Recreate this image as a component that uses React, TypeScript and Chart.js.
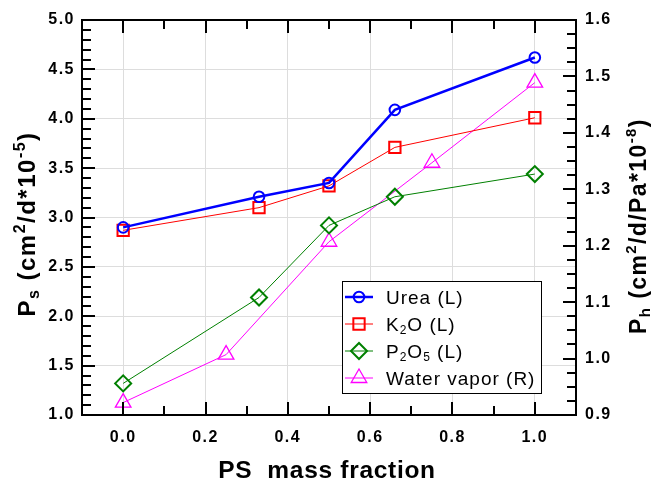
import { useEffect, useRef } from 'react';
import { Chart, registerables } from 'chart.js';
import { drawPoint } from 'chart.js/helpers';

Chart.register(...registerables);

// ---- data ----
const fertilizerX = [0, 0.33, 0.5, 0.66, 1.0];
const vaporX = [0, 0.25, 0.5, 0.75, 1.0];
const ureaPs = [2.9, 3.21, 3.35, 4.09, 4.62];
const k2oPs = [2.87, 3.1, 3.32, 3.71, 4.01];
const p2o5Ps = [1.32, 2.19, 2.92, 3.21, 3.44];
const waterPh = [0.922, 1.007, 1.207, 1.347, 1.489];

const xTickValues = [0, 0.2, 0.4, 0.6, 0.8, 1.0];
const leftTickValues = [1.0, 1.5, 2.0, 2.5, 3.0, 3.5, 4.0, 4.5, 5.0];
const rightTickValues = [0.9, 1.0, 1.1, 1.2, 1.3, 1.4, 1.5, 1.6];

type Part = { t: string; k?: 'sub' | 'sup' };
const legendLabels: Part[][] = [
  [{ t: 'Urea (L)' }],
  [{ t: 'K' }, { t: '2', k: 'sub' }, { t: 'O (L)' }],
  [{ t: 'P' }, { t: '2', k: 'sub' }, { t: 'O' }, { t: '5', k: 'sub' }, { t: ' (L)' }],
  [{ t: 'Water vapor (R)' }],
];
const xTitle = 'PS  mass fraction';
const leftTitle: Part[] = [
  { t: 'P' }, { t: 's', k: 'sub' }, { t: ' (cm' }, { t: '2', k: 'sup' }, { t: '/d*10' }, { t: '-5', k: 'sup' }, { t: ')' },
];
const rightTitle: Part[] = [
  { t: 'P' }, { t: 'h', k: 'sub' }, { t: ' (cm' }, { t: '2', k: 'sup' }, { t: '/d/Pa*10' }, { t: '-8', k: 'sup' }, { t: ')' },
];

const FAMILY = '"Liberation Sans", Arial, sans-serif';

function drawRich(ctx: CanvasRenderingContext2D, parts: Part[], x: number, y: number, size: number, bold: boolean, align: 'left' | 'center', spacing: number) {
  const w = bold ? 'bold ' : '';
  const small = Math.round(size * 0.65);
  const fontFor = (p: Part) => `${w}${p.k ? small : size}px ${FAMILY}`;
  (ctx as any).letterSpacing = spacing + 'px';
  let total = 0;
  for (const p of parts) {
    ctx.font = fontFor(p);
    total += ctx.measureText(p.t).width;
  }
  let cx = align === 'center' ? x - total / 2 : x;
  ctx.textAlign = 'left';
  ctx.textBaseline = 'alphabetic';
  for (const p of parts) {
    ctx.font = fontFor(p);
    let dy = 0;
    if (p.k === 'sub') dy = size * 0.18;
    if (p.k === 'sup') dy = -size * 0.42;
    ctx.fillText(p.t, cx, y + dy);
    cx += ctx.measureText(p.t).width;
  }
  (ctx as any).letterSpacing = '0px';
}

const tickSpacingPlugin = {
  id: 'tickSpacing',
  beforeDraw(chart: any) {
    (chart.ctx as any).letterSpacing = '1.5px';
  },
  afterDatasetsDraw(chart: any) {
    (chart.ctx as any).letterSpacing = '0px';
  },
};

const framePlugin = {
  id: 'frame',
  afterDatasetsDraw(chart: any) {
    const ctx: CanvasRenderingContext2D = chart.ctx;
    const { left, right, top, bottom } = chart.chartArea;
    const { x, y, y1 } = chart.scales;
    ctx.save();
    ctx.strokeStyle = '#000';
    ctx.lineWidth = 2;
    ctx.beginPath();
    for (let i = 0; i <= 10; i++) {
      const px = Math.round(x.getPixelForValue(i / 10));
      const len = i % 2 === 0 ? 13 : 9;
      ctx.moveTo(px, bottom); ctx.lineTo(px, bottom - len);
      ctx.moveTo(px, top); ctx.lineTo(px, top + len);
    }
    for (let i = 11; i < 50; i++) {
      const py = Math.round(y.getPixelForValue(i / 10));
      const len = i % 5 === 0 ? 13 : 9;
      ctx.moveTo(left, py); ctx.lineTo(left + len, py);
    }
    for (let i = 37; i < 64; i++) {
      const py = Math.round(y1.getPixelForValue(i * 0.025));
      const len = i % 4 === 0 ? 13 : 9;
      ctx.moveTo(right, py); ctx.lineTo(right - len, py);
    }
    ctx.stroke();
    ctx.strokeRect(left, top, right - left, bottom - top);
    ctx.restore();
  },
};

const textPlugin = {
  id: 'texts',
  afterDraw(chart: any) {
    const ctx: CanvasRenderingContext2D = chart.ctx;
    const { left, right, top, bottom } = chart.chartArea;
    ctx.save();
    ctx.fillStyle = '#000';
    // x title
    drawRich(ctx, [{ t: xTitle }], (left + right) / 2 - 2, 478, 24.5, true, 'center', 0.7);
    // left title
    ctx.save();
    ctx.translate(35, 224);
    ctx.rotate(-Math.PI / 2);
    drawRich(ctx, leftTitle, 0, 0, 24, true, 'center', 1.5);
    ctx.restore();
    // right title
    ctx.save();
    ctx.translate(646, 226);
    ctx.rotate(-Math.PI / 2);
    drawRich(ctx, rightTitle, 0, 0, 23, true, 'center', 1.4);
    ctx.restore();

    // legend
    const bx = 342, by = 281, bw = 199, bh = 112;
    ctx.fillStyle = '#fff';
    ctx.fillRect(bx, by, bw, bh);
    ctx.strokeStyle = '#000';
    ctx.lineWidth = 1;
    ctx.strokeRect(bx + 0.5, by + 0.5, bw, bh);
    const ds = chart.data.datasets;
    for (let i = 0; i < ds.length; i++) {
      const d = ds[i];
      const ry = by + 16 + i * 27;
      ctx.strokeStyle = d.borderColor;
      ctx.lineWidth = d.borderWidth;
      ctx.beginPath();
      ctx.moveTo(bx + 3, ry);
      ctx.lineTo(bx + 31, ry);
      ctx.stroke();
      ctx.lineWidth = d.pointBorderWidth;
      ctx.strokeStyle = d.pointBorderColor;
      ctx.fillStyle = 'rgba(0,0,0,0)';
      drawPoint(ctx, { pointStyle: d.pointStyle, radius: d.pointRadius, borderWidth: d.pointBorderWidth, rotation: 0 } as any, bx + 17, ry);
      ctx.fillStyle = '#000';
      drawRich(ctx, legendLabels[i], bx + 44, ry + 7, 19, false, 'left', 1);
    }
    ctx.restore();
  },
};

export default function App() {
  const ref = useRef<HTMLCanvasElement>(null);
  useEffect(() => {
    document.body.style.margin = '0';
    const canvas = ref.current!;
    const toPts = (xs: number[], ys: number[]) => xs.map((v, i) => ({ x: v, y: ys[i] }));
    const tickFont = { family: FAMILY, size: 16, weight: 'bold' as const };
    const chart = new Chart(canvas, {
      type: 'scatter',
      data: {
        datasets: [
          {
            label: 'Urea (L)', data: toPts(fertilizerX, ureaPs), yAxisID: 'y', showLine: true,
            borderColor: '#0000ff', borderWidth: 2.5, pointStyle: 'circle', pointRadius: 5.3,
            pointBorderColor: '#0000ff', pointBorderWidth: 2, pointBackgroundColor: 'rgba(0,0,0,0)',
          },
          {
            label: 'K2O (L)', data: toPts(fertilizerX, k2oPs), yAxisID: 'y', showLine: true,
            borderColor: '#ff0000', borderWidth: 1, pointStyle: 'rect', pointRadius: 8,
            pointBorderColor: '#ff0000', pointBorderWidth: 2, pointBackgroundColor: 'rgba(0,0,0,0)',
          },
          {
            label: 'P2O5 (L)', data: toPts(fertilizerX, p2o5Ps), yAxisID: 'y', showLine: true,
            borderColor: '#008000', borderWidth: 1, pointStyle: 'rectRot', pointRadius: 8,
            pointBorderColor: '#008000', pointBorderWidth: 2, pointBackgroundColor: 'rgba(0,0,0,0)',
          },
          {
            label: 'Water vapor (R)', data: toPts(vaporX, waterPh), yAxisID: 'y1', showLine: true,
            borderColor: '#ff00ff', borderWidth: 1, pointStyle: 'triangle', pointRadius: 9,
            pointBorderColor: '#ff00ff', pointBorderWidth: 1.3, pointBackgroundColor: 'rgba(0,0,0,0)',
          },
        ],
      } as any,
      options: {
        responsive: false,
        animation: false,
        layout: { padding: { top: 20, left: 0, right: 0, bottom: 0 } },
        plugins: { legend: { display: false }, tooltip: { enabled: false } },
        elements: { line: { tension: 0 } },
        scales: {
          x: {
            type: 'linear', position: 'bottom', min: -0.1, max: 1.1,
            afterBuildTicks: (s: any) => { s.ticks = xTickValues.map((v) => ({ value: v })); },
            afterFit: (s: any) => { s.height = 70; },
            ticks: { font: tickFont, color: '#000', padding: 13, maxRotation: 0, autoSkip: false, callback: (v: any) => Number(v).toFixed(1) },
            grid: { color: '#dddddd', lineWidth: 1, drawTicks: false },
            border: { display: false },
          },
          y: {
            type: 'linear', position: 'left', min: 1, max: 5,
            afterBuildTicks: (s: any) => { s.ticks = leftTickValues.map((v) => ({ value: v })); },
            afterFit: (s: any) => { s.width = 82; },
            ticks: { font: tickFont, color: '#000', padding: 7, autoSkip: false, callback: (v: any) => Number(v).toFixed(1) },
            grid: { color: '#dddddd', lineWidth: 1, drawTicks: false },
            border: { display: false },
          },
          y1: {
            type: 'linear', position: 'right', min: 0.9, max: 1.6,
            afterBuildTicks: (s: any) => { s.ticks = rightTickValues.map((v) => ({ value: v })); },
            afterFit: (s: any) => { s.width = 76; },
            ticks: { font: tickFont, color: '#000', padding: 9, autoSkip: false, callback: (v: any) => Number(v).toFixed(1) },
            grid: { display: false, drawTicks: false },
            border: { display: false },
          },
        },
      } as any,
      plugins: [tickSpacingPlugin, framePlugin, textPlugin],
    });
    return () => chart.destroy();
  }, []);
  return (
    <div style={{ width: 652, height: 485 }}>
      <canvas ref={ref} width={652} height={485} style={{ display: 'block' }} />
    </div>
  );
}
